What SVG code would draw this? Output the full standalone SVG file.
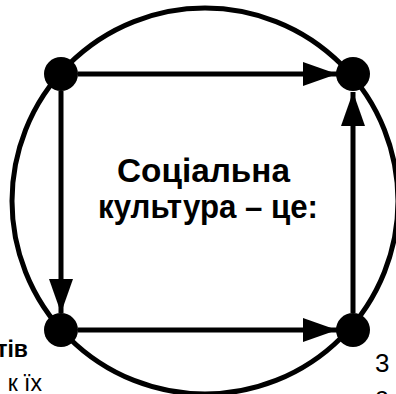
<svg xmlns="http://www.w3.org/2000/svg" width="396" height="394" viewBox="0 0 396 394">
<style>
.ln{stroke:#000;stroke-width:5;fill:none}
.nd{fill:#000}
.t{font-family:"Liberation Sans",Arial,sans-serif;fill:#000}
.b{font-weight:bold}
</style>
<defs>
<marker id="ah" markerUnits="userSpaceOnUse" markerWidth="34" markerHeight="24" refX="34" refY="12" orient="auto">
<path d="M0,0 L34,12 L0,24 Z" fill="#000"/>
</marker>
</defs>
<rect width="396" height="394" fill="#fff"/>
<circle class="ln" cx="205" cy="201" r="193"/>
<g id="connectors">
<line class="ln" x1="78" y1="74" x2="337" y2="74" marker-end="url(#ah)"/>
<line class="ln" x1="61" y1="91" x2="61" y2="313" marker-end="url(#ah)"/>
<line class="ln" x1="78" y1="330" x2="337" y2="330" marker-end="url(#ah)"/>
<line class="ln" x1="353" y1="313" x2="353" y2="92" marker-end="url(#ah)"/>
</g>
<g id="n1"><circle class="nd" cx="61" cy="74" r="17"/></g>
<g id="n2"><circle class="nd" cx="353" cy="74" r="17"/></g>
<g id="n3"><circle class="nd" cx="61" cy="330" r="17"/></g>
<g id="n4"><circle class="nd" cx="353" cy="330" r="17"/></g>
<g id="center">
<text class="t b" x="117" y="182" font-size="33" textLength="173" lengthAdjust="spacingAndGlyphs">Соціальна</text>
<text class="t b" x="98" y="218" font-size="33" textLength="220" lengthAdjust="spacingAndGlyphs">культура – це:</text>
</g>
<text class="t b" x="28" y="357" font-size="23" text-anchor="end">тів</text>
<text class="t" x="42" y="391" font-size="23" text-anchor="end">к їх</text>
<text class="t" x="375" y="372" font-size="26">3</text>
<text class="t" x="375" y="405" font-size="26">с</text>
</svg>
